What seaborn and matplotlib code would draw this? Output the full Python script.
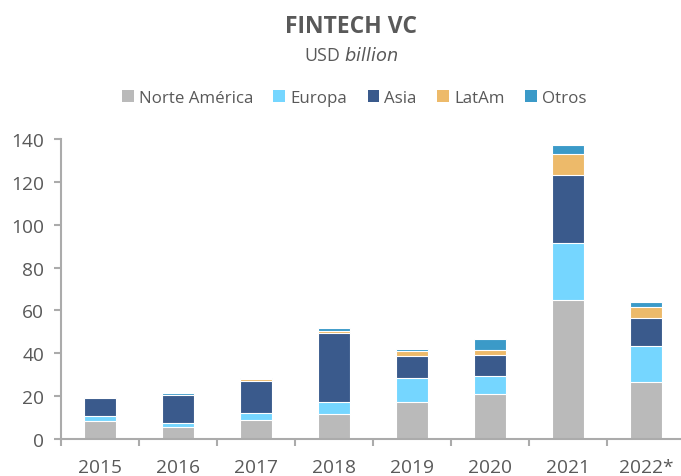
import numpy as np
import pandas as pd
import seaborn as sns
import matplotlib.pyplot as plt
from matplotlib.patches import Patch

years = ['2015', '2016', '2017', '2018', '2019', '2020', '2021', '2022*']
norte_america = [8.1, 5.3, 8.6, 11.5, 17.4, 20.8, 65.0, 26.4]
europa = [2.6, 2.0, 3.4, 5.8, 11.2, 8.4, 26.3, 17.0]
asia = [8.3, 13.1, 14.8, 32.3, 10.3, 9.8, 32.0, 13.2]
latam = [0.1, 0.3, 1.1, 0.8, 2.3, 2.5, 9.8, 4.9]
otros = [0.4, 0.8, 0.6, 1.3, 0.8, 5.3, 4.4, 2.3]

series = ['Norte América', 'Europa', 'Asia', 'LatAm', 'Otros']
colors = ['#BABABA', '#75D6FF', '#3A5A8C', '#EDBA6A', '#3B9AC8']
text_color = '#595959'

sns.set_style('white')
plt.rcParams['font.family'] = ['Open Sans', 'DejaVu Sans']

df = pd.DataFrame({'Year': years, 'Norte América': norte_america, 'Europa': europa,
                   'Asia': asia, 'LatAm': latam, 'Otros': otros})
cum = df[series].cumsum(axis=1)

fig = plt.figure(figsize=(6.81, 4.77), dpi=100)
ax = fig.add_axes([0.0896, 0.078, 0.9104 + 0.006, 0.628])

# draw from the top segment down so lower segments cover the upper totals
for name, color in reversed(list(zip(series, colors))):
    sns.barplot(x=df['Year'], y=cum[name], color=color, width=0.4,
                edgecolor='white', linewidth=0.8, saturation=1, ax=ax)

ax.set_ylim(0, 140)
ax.set_xlim(-0.5, 7.5)
ax.set_yticks(np.arange(0, 141, 20))
ax.set_xlabel('')
ax.set_ylabel('')

for side in ['top', 'right']:
    ax.spines[side].set_visible(False)
for side in ['left', 'bottom']:
    ax.spines[side].set_color('#ABABAB')
    ax.spines[side].set_linewidth(1.5)

ax.tick_params(axis='y', left=True, length=5, width=1.5, color='#ABABAB',
               labelsize=13.8, labelcolor=text_color, pad=7)
ax.tick_params(axis='x', which='major', bottom=False, labelsize=13.8,
               labelcolor=text_color, pad=10)
ax.set_xticks(np.arange(-0.5, 8, 1), minor=True)
ax.tick_params(axis='x', which='minor', bottom=True, length=5, width=1.5,
               color='#ABABAB')

fig.text(0.515, 0.944, 'FINTECH VC', ha='center', va='center', fontsize=16.5,
         fontweight='bold', color=text_color)
fig.text(0.515, 0.883, 'USD $\\it{billion}$', ha='center', va='center',
         fontsize=12.8, color=text_color)

handles = [Patch(facecolor=c, edgecolor='none', label=s) for s, c in zip(series, colors)]
fig.legend(handles=handles, loc='center', bbox_to_anchor=(0.52, 0.792), ncol=5,
           frameon=False, fontsize=12.2, handlelength=0.7, handleheight=0.7,
           handletextpad=0.3, columnspacing=1.2, labelcolor=text_color)

fig.savefig('out.png', dpi=100)
